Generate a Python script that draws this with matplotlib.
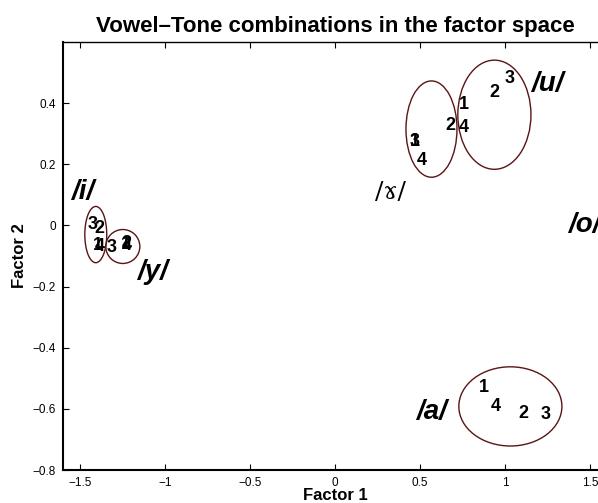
import matplotlib
matplotlib.use("Agg")
import matplotlib.pyplot as plt
from matplotlib.patches import Ellipse

plt.rcParams['font.family'] = ['Liberation Sans', 'DejaVu Sans']

# tone digits per vowel (factor 1, factor 2)
tones_i = ['3', '2', '1', '4']
x_i = [-1.425, -1.382, -1.394, -1.382]
y_i = [0.003, -0.010, -0.066, -0.069]

tones_y = ['3', '1', '2', '4']
x_y = [-1.314, -1.229, -1.229, -1.224]
y_y = [-0.073, -0.062, -0.059, -0.066]

tones_e = ['2', '1', '3', '4']
x_e = [0.682, 0.471, 0.471, 0.510]
y_e = [0.328, 0.276, 0.276, 0.211]

tones_u = ['3', '2', '1', '4']
x_u = [1.025, 0.937, 0.759, 0.759]
y_u = [0.479, 0.435, 0.397, 0.320]

tones_a = ['1', '4', '2', '3']
x_a = [0.876, 0.945, 1.106, 1.239]
y_a = [-0.531, -0.592, -0.616, -0.620]

# ellipses: center x, center y, width, height
ell_cx = [-1.406, -1.247, 0.568, 0.938, 1.032]
ell_cy = [-0.030, -0.069, 0.315, 0.362, -0.592]
ell_w = [0.129, 0.200, 0.300, 0.430, 0.606]
ell_h = [0.184, 0.111, 0.315, 0.357, 0.259]

# vowel labels
vowels = ['/i/', '/y/', '/u/', '/\u0264/', '/o/', '/a/']
vx = [-1.482, -1.071, 1.247, 0.324, 1.371, 0.569]
vy = [0.108, -0.151, 0.462, 0.108, 0.0, -0.610]

xticks = [-1.5, -1, -0.5, 0, 0.5, 1, 1.5]
xticklabels = ['\u22121.5', '\u22121', '\u22120.5', '0', '0.5', '1', '1.5']
yticks = [-0.8, -0.6, -0.4, -0.2, 0, 0.2, 0.4]
yticklabels = ['\u22120.8', '\u22120.6', '\u22120.4', '\u22120.2', '0', '0.2', '0.4']

fig = plt.figure(figsize=(5.98, 5.03), dpi=100)
ax = fig.add_axes([0.105, 0.0656, 0.91, 0.851])

for cx, cy, w, h in zip(ell_cx, ell_cy, ell_w, ell_h):
    ax.add_patch(Ellipse((cx, cy), w, h, fill=False, edgecolor='#5a1414', linewidth=1.0))

groups = [(tones_i, x_i, y_i), (tones_y, x_y, y_y), (tones_e, x_e, y_e),
          (tones_u, x_u, y_u), (tones_a, x_a, y_a)]
for tones, xs, ys in groups:
    for t, x, y in zip(tones, xs, ys):
        ax.text(x, y, t, fontsize=13, fontweight='bold', ha='center', va='center')

for lab, x, y in zip(vowels, vx, vy):
    if lab == '/\u0264/':
        ax.text(x, y, lab, fontsize=18, ha='center', va='center', family='DejaVu Serif')
    elif lab == '/o/':
        ax.text(x, y, lab, fontsize=20, fontweight='bold', style='italic', ha='left', va='center')
    else:
        ax.text(x, y, lab, fontsize=20, fontweight='bold', style='italic', ha='center', va='center')

ax.set_xlim(-1.6, 1.6)
ax.set_ylim(-0.8, 0.6)
ax.set_xticks(xticks)
ax.set_xticklabels(xticklabels)
ax.set_yticks(yticks)
ax.set_yticklabels(yticklabels)
ax.tick_params(direction='in', top=True, right=True, labelsize=8.5, length=4, width=0.8, pad=5)
for s in ['left', 'bottom']:
    ax.spines[s].set_linewidth(1.5)
ax.spines['top'].set_linewidth(1.0)

ax.set_xlabel('Factor 1', fontsize=12, fontweight='bold', labelpad=-1)
ax.set_ylabel('Factor 2', fontsize=12, fontweight='bold', labelpad=4)
ax.set_title('Vowel\u2013Tone combinations in the factor space', fontsize=16, fontweight='bold', pad=7)

fig.savefig('out.png', dpi=100)
